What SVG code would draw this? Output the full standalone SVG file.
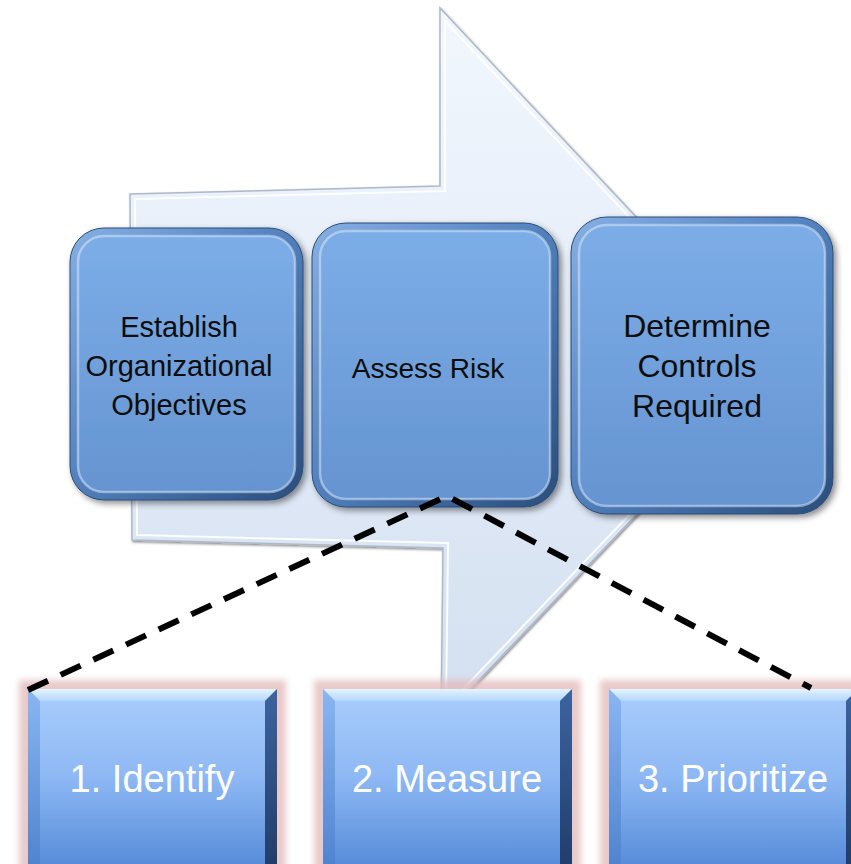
<svg xmlns="http://www.w3.org/2000/svg" width="851" height="864" viewBox="0 0 851 864">
  <defs>
    <linearGradient id="arrowFill" x1="0" y1="0" x2="0" y2="1">
      <stop offset="0" stop-color="#f2f7fd"/>
      <stop offset="0.5" stop-color="#e3ecf8"/>
      <stop offset="1" stop-color="#d3dff0"/>
    </linearGradient>
    <linearGradient id="rimGrad" x1="0" y1="0" x2="1" y2="1">
      <stop offset="0" stop-color="#86b0e3"/>
      <stop offset="0.45" stop-color="#5584c0"/>
      <stop offset="1" stop-color="#2a4d7c"/>
    </linearGradient>
    <linearGradient id="faceGrad" x1="0" y1="0" x2="0" y2="1">
      <stop offset="0" stop-color="#7dade7"/>
      <stop offset="1" stop-color="#6594d0"/>
    </linearGradient>
    <linearGradient id="bFace" x1="0" y1="0" x2="0" y2="1">
      <stop offset="0" stop-color="#a9cdfc"/>
      <stop offset="0.45" stop-color="#8fb9f4"/>
      <stop offset="1" stop-color="#4f86d6"/>
    </linearGradient>
    <linearGradient id="bTop" x1="0" y1="0" x2="0" y2="1">
      <stop offset="0" stop-color="#e4f4fe"/>
      <stop offset="1" stop-color="#b2d7fb"/>
    </linearGradient>
    <linearGradient id="bLeft" x1="0" y1="0" x2="0" y2="1">
      <stop offset="0" stop-color="#8ab6f2"/>
      <stop offset="1" stop-color="#4c80cc"/>
    </linearGradient>
    <linearGradient id="bRight" x1="0" y1="0" x2="0" y2="1">
      <stop offset="0" stop-color="#3d64a0"/>
      <stop offset="1" stop-color="#1f3a66"/>
    </linearGradient>
    <filter id="shadow" x="-10%" y="-10%" width="125%" height="125%">
      <feDropShadow dx="3" dy="3" stdDeviation="3" flood-color="#000" flood-opacity="0.45"/>
    </filter>
    <filter id="arrowShadow" x="-5%" y="-5%" width="110%" height="110%">
      <feDropShadow dx="1" dy="1.5" stdDeviation="1" flood-color="#000" flood-opacity="0.45"/>
    </filter>
    <filter id="glow" x="-10%" y="-10%" width="120%" height="120%">
      <feGaussianBlur stdDeviation="3"/>
    </filter>
  </defs>
  <style>
    .rim { fill: url(#rimGrad); stroke: #2b4c78; stroke-width: 1; }
    .face { fill: url(#faceGrad); stroke: #d6e6f8; stroke-opacity: 0.55; stroke-width: 2.5; }
    .tt { font-family: "Liberation Sans", Arial, sans-serif; fill: #0d0d0d; text-anchor: middle; }
    .bt { font-family: "Liberation Sans", Arial, sans-serif; fill: #ffffff; font-size: 38px; text-anchor: middle; }
    .glowr { fill: #e2b8b8; opacity: 0.75; }
    .dash { fill: none; stroke: #000; stroke-width: 6; stroke-dasharray: 22 14; stroke-linejoin: miter; }
  </style>

  <g id="arrow" filter="url(#arrowShadow)">
    <polygon points="130,194 440,186 440,8 777,367 441,720 443,548 132,540" fill="url(#arrowFill)" stroke="#aeb9c7" stroke-width="1.5"/>
    <polygon points="135,199 445,191 445,21 770,367 446,707 448,543 137,535" fill="none" stroke="#ffffff" stroke-width="2" stroke-opacity="0.9"/>
  </g>

  <g id="node-establish">
    <g filter="url(#shadow)">
      <rect class="rim" x="70" y="228" width="233" height="272" rx="34"/>
      <rect class="face" x="78" y="236" width="217" height="256" rx="26"/>
    </g>
    <text class="tt" font-size="29" x="179" y="337">Establish</text>
    <text class="tt" font-size="29" x="179" y="376">Organizational</text>
    <text class="tt" font-size="29" x="179" y="415">Objectives</text>
  </g>

  <g id="node-assess">
    <g filter="url(#shadow)">
      <rect class="rim" x="312" y="223" width="246" height="284" rx="34"/>
      <rect class="face" x="320" y="231" width="230" height="268" rx="26"/>
    </g>
    <text class="tt" font-size="28" x="428" y="378">Assess Risk</text>
  </g>

  <g id="node-determine">
    <g filter="url(#shadow)">
      <rect class="rim" x="571" y="217" width="262" height="297" rx="36"/>
      <rect class="face" x="579" y="225" width="246" height="281" rx="28"/>
    </g>
    <text class="tt" font-size="32" x="697" y="337">Determine</text>
    <text class="tt" font-size="32" x="697" y="377">Controls</text>
    <text class="tt" font-size="32" x="697" y="417">Required</text>
  </g>

  <g id="node-identify">
    <rect class="glowr" x="19" y="680" width="267" height="200" filter="url(#glow)"/>
    <rect x="28" y="689" width="249" height="190" fill="url(#bFace)"/>
    <polygon points="28,689 277,689 265,701 40,701" fill="url(#bTop)"/>
    <polygon points="28,689 40,701 40,879 28,879" fill="url(#bLeft)"/>
    <polygon points="277,689 277,879 265,879 265,701" fill="url(#bRight)"/>
    <text class="bt" x="152" y="792">1. Identify</text>
  </g>

  <g id="node-measure">
    <rect class="glowr" x="314" y="680" width="267" height="200" filter="url(#glow)"/>
    <rect x="323" y="689" width="249" height="190" fill="url(#bFace)"/>
    <polygon points="323,689 572,689 560,701 335,701" fill="url(#bTop)"/>
    <polygon points="323,689 335,701 335,879 323,879" fill="url(#bLeft)"/>
    <polygon points="572,689 572,879 560,879 560,701" fill="url(#bRight)"/>
    <text class="bt" x="447" y="792">2. Measure</text>
  </g>

  <g id="node-prioritize">
    <rect class="glowr" x="600" y="680" width="267" height="200" filter="url(#glow)"/>
    <rect x="609" y="689" width="249" height="190" fill="url(#bFace)"/>
    <polygon points="609,689 858,689 846,701 621,701" fill="url(#bTop)"/>
    <polygon points="609,689 621,701 621,879 609,879" fill="url(#bLeft)"/>
    <polygon points="858,689 858,879 846,879 846,701" fill="url(#bRight)"/>
    <text class="bt" x="733" y="792">3. Prioritize</text>
  </g>

  <g id="connectors">
    <path class="dash" d="M28,690 L447,496 L811,688"/>
  </g>
</svg>
